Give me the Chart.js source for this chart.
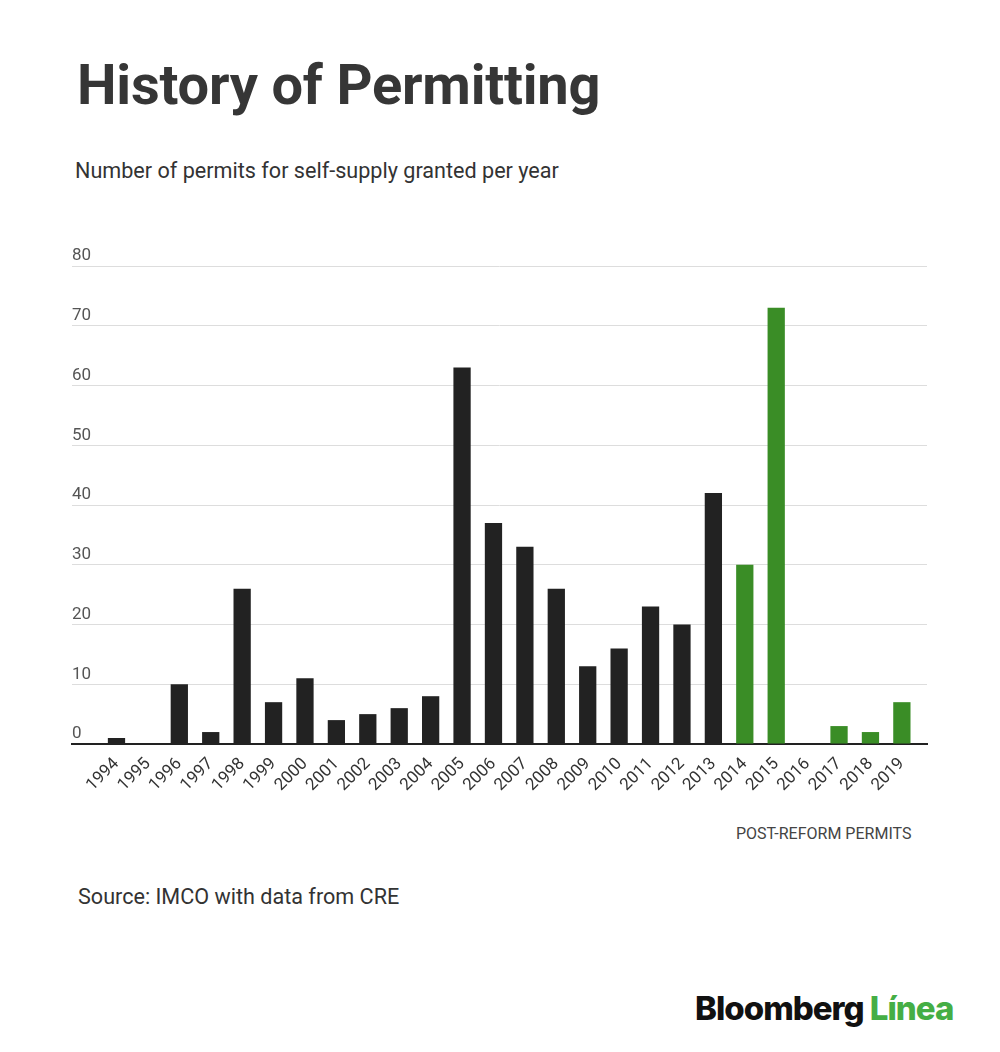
<!DOCTYPE html>
<html>
<head>
<meta charset="utf-8">
<script src="https://cdn.jsdelivr.net/npm/chart.js@4"></script>
<style>
  html, body { margin: 0; padding: 0; background: #fff; }
  body { width: 1000px; height: 1052px; position: relative; font-family: Roboto, "Noto Sans", sans-serif; overflow: hidden; }
  #title { position: absolute; left: 77px; top: 52px; font-size: 56px; font-weight: 700; color: #363636; letter-spacing: -0.2px; }
  #subtitle { position: absolute; left: 75px; top: 158px; font-size: 21.6px; color: #333; }
  #wrap { position: absolute; left: 0; top: 230px; width: 1000px; height: 574px; }
  #note { position: absolute; left: 736px; top: 824px; font-size: 16px; color: #444; }
  #source { position: absolute; left: 78px; top: 884px; font-size: 21.6px; color: #333; }
  #logo { position: absolute; left: 695px; top: 988px; font-family: Inter, "Liberation Sans", sans-serif; font-size: 33px; font-weight: 800; letter-spacing: -1px; color: #111; }
  #logo span { color: #45ae45; }
</style>
</head>
<body>
<div id="title">History of Permitting</div>
<div id="subtitle">Number of permits for self-supply granted per year</div>
<div id="wrap"><canvas id="c"></canvas></div>
<div id="note">POST-REFORM PERMITS</div>
<div id="source">Source: IMCO with data from CRE</div>
<div id="logo">Bloomberg <span>Línea</span></div>
<script>
const years = ["1994","1995","1996","1997","1998","1999","2000","2001","2002","2003","2004","2005","2006","2007","2008","2009","2010","2011","2012","2013","2014","2015","2016","2017","2018","2019"];
const permits = [1,0,10,2,26,7,11,4,5,6,8,63,37,33,26,13,16,23,20,42,30,73,0,3,2,7];
const yTicks = [0,10,20,30,40,50,60,70,80];
const reformYear = 2014;

const colors = years.map(y => Number(y) >= reformYear ? "#3a8d26" : "#222222");
const points = permits.map((v, i) => ({ x: i, y: v }));

new Chart(document.getElementById("c"), {
  type: "bar",
  data: {
    datasets: [{
      data: points,
      backgroundColor: colors,
      borderWidth: 0,
      categoryPercentage: 1.0,
      barPercentage: 0.55
    }]
  },
  options: {
    responsive: true,
    maintainAspectRatio: false,
    animation: false,
    layout: { padding: { left: 72, right: 73, top: 36, bottom: 0 } },
    plugins: { legend: { display: false }, tooltip: { enabled: false } },
    scales: {
      x: {
        type: "linear",
        min: -1.416, max: 25.8,
        offset: false,
        afterBuildTicks: axis => { axis.ticks = years.map((_, i) => ({ value: i })); },
        afterFit: axis => { axis.height = 60; },
        grid: { display: false, drawTicks: false },
        border: { display: true, color: "#222", width: 2 },
        ticks: {
          minRotation: 45, maxRotation: 45, autoSkip: false,
          color: "#333", padding: 10,
          font: { family: "Roboto", size: 17 },
          callback: v => years[v]
        }
      },
      y: {
        min: 0, max: 80,
        afterBuildTicks: axis => { axis.ticks = yTicks.map(v => ({ value: v })); },
        grid: { color: "#dddddd", lineWidth: 1, drawTicks: false },
        border: { display: false },
        ticks: {
          mirror: true, padding: 0, labelOffset: -10,
          color: "#555", font: { family: "Roboto", size: 17 }
        }
      }
    }
  }
});
</script>
</body>
</html>
